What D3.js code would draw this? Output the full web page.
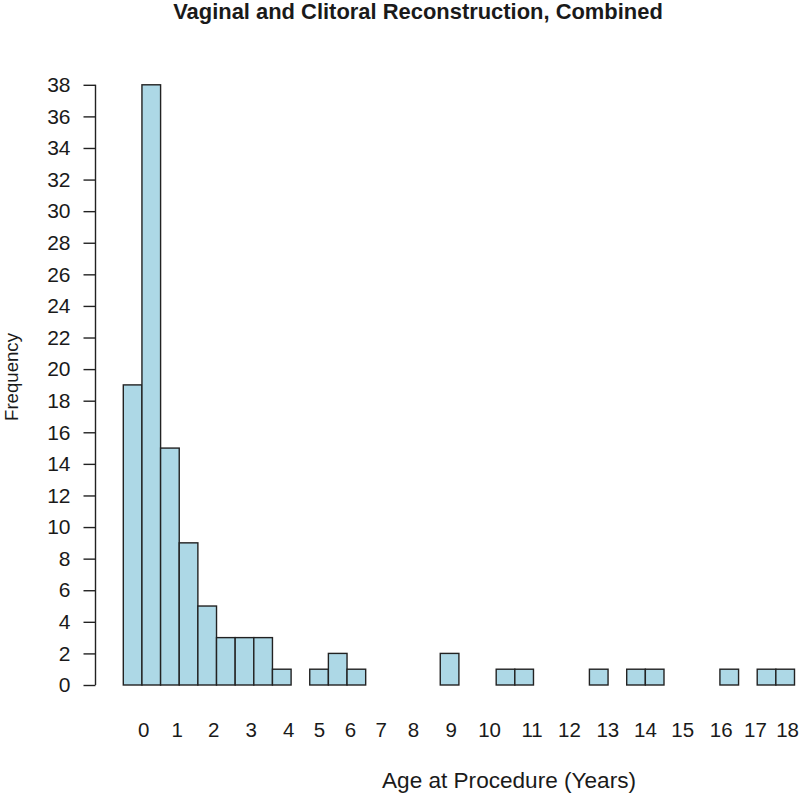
<!DOCTYPE html>
<html>
<head>
<meta charset="utf-8">
<script src="https://cdn.jsdelivr.net/npm/d3@7/dist/d3.min.js"></script>
<style>
  html, body { margin: 0; padding: 0; background: #fff; }
  svg text { font-family: "Liberation Sans", Arial, sans-serif; fill: #1a1a1a; }
</style>
</head>
<body>
<svg id="chart" width="800" height="798"></svg>
<script>
// Histogram bins: 0.5-year bins from 0 to 18
const binStarts = d3.range(0, 18, 0.5);
const counts = [19, 38, 15, 9, 5, 3, 3, 3, 1, 0, 1, 2, 1, 0, 0, 0, 0, 2,
                0, 0, 1, 1, 0, 0, 0, 1, 0, 1, 1, 0, 0, 0, 1, 0, 1, 1];
const yTicks = d3.range(0, 40, 2);
const xTickLabels = ["0","1","2","3","4","5","6","7","8","9","10","11","12","13","14","15","16","17","18"];
const xTickAt = [0.536, 1.43, 2.41, 3.42, 4.42, 5.25, 6.08, 6.90, 7.77, 8.78, 9.81,
                 10.95, 11.95, 12.98, 13.99, 14.99, 16.02, 16.94, 17.80];
const title = "Vaginal and Clitoral Reconstruction, Combined";
const xTitle = "Age at Procedure (Years)";
const yTitle = "Frequency";

const svg = d3.select("#chart");
const x = d3.scaleLinear().domain([0, 18]).range([123.3, 794.5]);
const y = d3.scaleLinear().domain([0, 38]).range([685, 84.8]);

// bars
svg.append("g").selectAll("rect")
  .data(binStarts.map((b, i) => ({b, c: counts[i]})))
  .join("rect")
  .attr("x", d => x(d.b))
  .attr("y", d => y(d.c))
  .attr("width", d => x(d.b + 0.5) - x(d.b))
  .attr("height", d => y(0) - y(d.c))
  .attr("fill", "#ADD8E6")
  .attr("stroke", "#222")
  .attr("stroke-width", 1.4);

// y axis
const yAxis = d3.axisLeft(y).tickValues(yTicks).tickSize(12).tickPadding(13).tickSizeOuter(0);
const gy = svg.append("g").attr("transform", "translate(95.5,0)").call(yAxis);
gy.select(".domain").attr("stroke", "#222").attr("stroke-width", 1.4)
  .attr("d", `M0,${y(0)}V${y(38)}`);
gy.selectAll(".tick line").attr("stroke", "#222").attr("stroke-width", 1.4);
gy.selectAll(".tick text").attr("font-size", 21).attr("fill", "#1a1a1a")
  .attr("font-family", "Liberation Sans, Arial, sans-serif");

// x labels (no axis line)
const xAxis = d3.axisBottom(x).tickValues(xTickAt)
  .tickFormat((d, i) => xTickLabels[i]).tickSize(0).tickPadding(0);
const gx = svg.append("g").attr("transform", "translate(0,722)").call(xAxis);
gx.select(".domain").remove();
gx.selectAll(".tick text").attr("font-size", 20.5).attr("fill", "#1a1a1a")
  .attr("font-family", "Liberation Sans, Arial, sans-serif");

function fit(sel, w) {
  const cur = sel.node().getComputedTextLength();
  const fs = parseFloat(sel.attr("font-size"));
  sel.attr("font-size", fs * w / cur);
}

const t = svg.append("text").attr("x", 418).attr("y", 19).attr("text-anchor", "middle")
  .attr("font-weight", "bold").attr("font-size", 20).text(title);
fit(t, 490);

const xt = svg.append("text").attr("x", 509).attr("y", 788).attr("text-anchor", "middle")
  .attr("font-size", 20).text(xTitle);
fit(xt, 254);

const yt = svg.append("text").attr("transform", "translate(18,377) rotate(-90)")
  .attr("text-anchor", "middle").attr("font-size", 18).text(yTitle);
fit(yt, 88);
</script>
</body>
</html>
